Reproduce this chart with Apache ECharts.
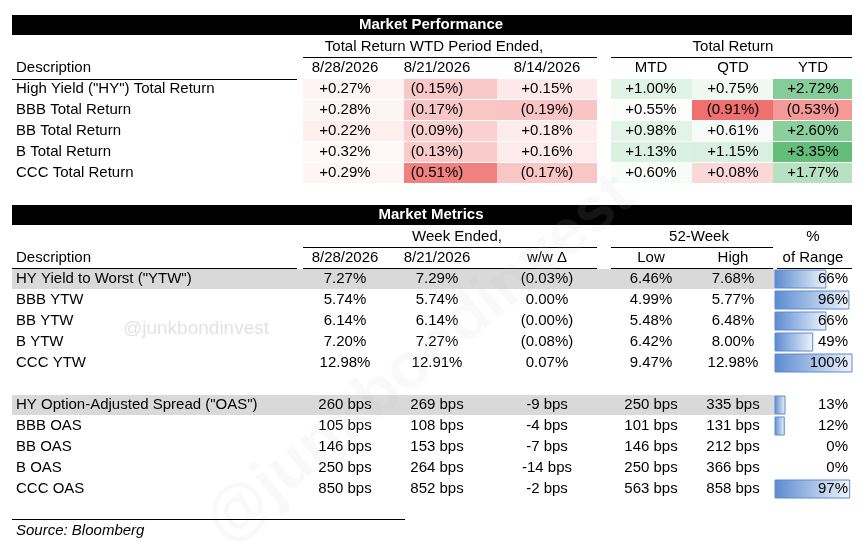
<!DOCTYPE html>
<html><head><meta charset="utf-8">
<script src="https://cdn.jsdelivr.net/npm/echarts@6/dist/echarts.min.js"></script>
<style>html,body{margin:0;padding:0;background:#fff}#c{width:862px;height:550px}</style>
</head><body><div id="c"></div>
<script>
// ---- data ----
var perfRows = ['High Yield ("HY") Total Return','BBB Total Return','BB Total Return','B Total Return','CCC Total Return'];
var wtdDates = ['8/28/2026','8/21/2026','8/14/2026'];
var trHeads = ['MTD','QTD','YTD'];
var wtdVals = [[0.27,-0.15,0.15],[0.28,-0.17,-0.19],[0.22,-0.09,0.18],[0.32,-0.13,0.16],[0.29,-0.51,-0.17]];
var trVals = [[1.00,0.75,2.72],[0.55,-0.91,-0.53],[0.98,0.61,2.60],[1.13,1.15,3.35],[0.60,0.08,1.77]];
var metHeads = ['8/28/2026','8/21/2026','w/w \u0394','Low','High','of Range'];
var ytwRows = ['HY Yield to Worst ("YTW")','BBB YTW','BB YTW','B YTW','CCC YTW'];
var ytwCur = [7.27,5.74,6.14,7.20,12.98];
var ytwPrev = [7.29,5.74,6.14,7.27,12.91];
var ytwChg = ['(0.03%)','0.00%','(0.00%)','(0.08%)','0.07%'];
var ytwLow = [6.46,4.99,5.48,6.42,9.47];
var ytwHigh = [7.68,5.77,6.48,8.00,12.98];
var ytwPct = [66,96,66,49,100];
var oasRows = ['HY Option-Adjusted Spread ("OAS")','BBB OAS','BB OAS','B OAS','CCC OAS'];
var oasCur = [260,105,146,250,850];
var oasPrev = [269,108,153,264,852];
var oasChg = [-9,-4,-7,-14,-2];
var oasLow = [250,101,146,250,563];
var oasHigh = [335,131,212,366,858];
var oasPct = [13,12,0,0,97];

// ---- layout & build ----
var F = 'Liberation Sans, Arial, sans-serif';
var items = [];
function rect(x0,y0,x1,y1,fill,extra){items.push({t:'r',x0:x0,y0:y0,x1:x1,y1:y1,fill:fill,ex:extra||{}});}
function txt(x,y,s,align,ex){items.push({t:'t',x:x,y:y,s:s,align:align||'center',ex:ex||{}});}
function line(x0,x1,y,w){items.push({t:'l',x0:x0,x1:x1,y:y,w:w||1});}
function pctS(v){return v<0?'('+Math.abs(v).toFixed(2)+'%)':'+'+v.toFixed(2)+'%';}
function lerp(a,b,t){t=Math.max(0,Math.min(1,t));var r=[];for(var i=0;i<3;i++)r.push(Math.round(a[i]+(b[i]-a[i])*t));return 'rgb('+r.join(',')+')';}
var RED=[240,112,112],WHITE=[255,255,255],GREEN=[99,190,123];
function scale(v,mn,mid,mx){return v<mid?lerp(RED,WHITE,(v-mn)/(mid-mn)):lerp(WHITE,GREEN,Math.min(1,(v-mid)/(mx-mid)));}

// Section 1
rect(12,15,852,35,'#000');
txt(431,25,'Market Performance','center',{fontWeight:'bold',fill:'#fff'});
txt(434,47,'Total Return WTD Period Ended,');
txt(733,47,'Total Return');
line(303,597,57); line(611,852,57);
txt(16,68,'Description','left');
var L1=[[303,404],[404,497],[497,597]], C1=[345,437,547];
var L2=[[611,692],[692,773],[773,852]], C2=[651,733,813];
wtdDates.forEach(function(d,i){txt(C1[i],68,d);});
trHeads.forEach(function(d,i){txt(C2[i],68,d);});
line(12,297,79); line(303,597,79); line(611,852,79);
perfRows.forEach(function(r,i){
  var y=89+21*i;
  txt(16,y,r,'left');
  wtdVals[i].forEach(function(v,j){rect(L1[j][0],y-10,L1[j][1],y+10,lerp([241,128,128],[255,248,248],Math.pow((v+0.51)/0.83,0.6)));txt(C1[j],y,pctS(v));});
  trVals[i].forEach(function(v,j){rect(L2[j][0],y-10,L2[j][1],y+10,scale(v,-0.91,0.45,3.35));txt(C2[j],y,pctS(v));});
});

// Section 2
rect(12,205,852,225,'#000');
txt(431,215,'Market Metrics','center',{fontWeight:'bold',fill:'#fff'});
txt(457,237,'Week Ended,'); txt(699,237,'52-Week'); txt(813,237,'%');
line(303,597,247); line(611,773,247);
txt(16,258,'Description','left');
var CM=[345,437,547,651,733,813];
metHeads.forEach(function(h,i){txt(CM[i],258,h);});
line(12,297,268); line(303,597,268); line(611,773,268); line(777,852,268);
function block(rows,y0,cells,pcts){
  rows.forEach(function(r,i){
    var y=y0+21*i;
    if(i===0) rect(12,y-10,775,y+10,'#d9d9d9');
    txt(16,y,r,'left');
    cells[i].forEach(function(s,j){txt(CM[j],y,s);});
    var w=pcts[i]/100*77;
    if(w>0) rect(775,y-9,775+w,y+9,{type:'linear',x:0,y:0,x2:1,y2:0,colorStops:[{offset:0,color:'#5b8bd0'},{offset:1,color:'#f0f4fb'}]},{stroke:'#5b8bd0',lineWidth:1});
    txt(848,y,pcts[i]+'%','right');
  });
}
block(ytwRows,279,ytwRows.map(function(_,i){return [ytwCur[i].toFixed(2)+'%',ytwPrev[i].toFixed(2)+'%',ytwChg[i],ytwLow[i].toFixed(2)+'%',ytwHigh[i].toFixed(2)+'%'];}),ytwPct);
block(oasRows,405,oasRows.map(function(_,i){return [oasCur[i]+' bps',oasPrev[i]+' bps',oasChg[i]+' bps',oasLow[i]+' bps',oasHigh[i]+' bps'];}),oasPct);
txt(196,329,'@junkbondinvest','center',{fill:'rgba(190,190,190,0.45)',fontSize:19});
items.push({t:'w'});

line(12,405,519);
txt(16,531,'Source: Bloomberg','left',{fontStyle:'italic'});

var chart=echarts.init(document.getElementById('c'));
chart.setOption({
  animation:false,
  grid:{left:0,right:0,top:0,bottom:0},
  xAxis:{type:'value',min:0,max:862,show:false},
  yAxis:{type:'value',min:0,max:550,inverse:true,show:false},
  series:[{type:'custom',coordinateSystem:'cartesian2d',data:items.map(function(_,i){return [i,0];}),
    renderItem:function(p,api){
      var it=items[p.dataIndex];
      if(it.t==='r'){var a=api.coord([it.x0,it.y0]),b=api.coord([it.x1,it.y1]);
        return {type:'rect',shape:{x:a[0],y:a[1],width:b[0]-a[0],height:b[1]-a[1]},style:Object.assign({fill:it.fill},it.ex)};}
      if(it.t==='l'){var a=api.coord([it.x0,it.y]),b=api.coord([it.x1,it.y]);
        return {type:'line',shape:{x1:a[0],y1:a[1]+0.5,x2:b[0],y2:b[1]+0.5},style:{stroke:'#000',lineWidth:it.w}};}
      if(it.t==='w'){var c=api.coord([420,360]);
        return {type:'text',x:c[0],y:c[1],rotation:Math.PI/4.5,style:{text:'@junkbondinvest',fill:'rgba(200,200,200,0.1)',font:'bold 64px '+F,align:'center',verticalAlign:'middle'}};}
      var c=api.coord([it.x,it.y]);
      return {type:'text',x:c[0],y:c[1],style:Object.assign({text:it.s,fill:'#000',fontFamily:F,fontSize:15,align:it.align,verticalAlign:'middle'},it.ex)};
    }}]
});
</script></body></html>
